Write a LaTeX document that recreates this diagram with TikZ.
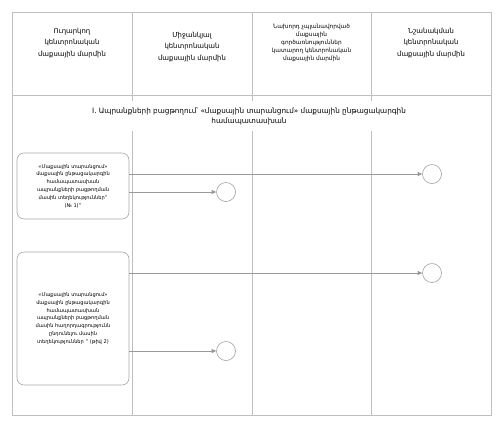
\documentclass[tikz,border=0pt]{standalone}
\usepackage{fontspec}
\setmainfont{DejaVu Sans}
\usetikzlibrary{arrows.meta,positioning}
\tikzset{
	lane/.style={draw=gray!50,line width=.6pt},
	head/.style={align=center,font=\fontsize{6.9}{11.5}\selectfont},
	stage/.style={align=center,fill=white,minimum height=30bp,inner xsep=6bp,font=\fontsize{7.3}{10}\selectfont},
	msg/.style={draw=gray!70,line width=.6pt,rounded corners=7bp,align=center,minimum width=112bp,font=\fontsize{5.1}{7.8}\selectfont},
	event/.style={draw=gray!75,line width=.6pt,circle,minimum size=19bp,inner sep=0pt},
	flow/.style={draw=gray!80,line width=.6pt,-{Triangle[length=4.5bp,width=4bp]}}
}
\begin{document}
\begin{tikzpicture}[x=1bp,y=-1bp]
	\useasboundingbox (0,0) rectangle (500,424);
	\draw[lane] (12,12) rectangle (491,415);
	\draw[lane] (12,95) -- (491,95);
	\foreach \x in {132,252,371}
		\draw[lane] (\x,12) -- (\x,415);

	\node[head] (snd) at (72,43) {Ուղարկող\\կենտրոնական\\մաքսային մարմին};
	\node[head] (mid) at (192,47) {Միջանկյալ\\կենտրոնական\\մաքսային մարմին};
	\node[head,font=\fontsize{5.8}{8}\selectfont] (prv) at (311.5,43) {Նախորդ չպլանավորված\\մաքսային\\գործառնություններ\\կատարող կենտրոնական\\մաքսային մարմին};
	\node[head] (dst) at (431,43) {Նշանակման\\կենտրոնական\\մաքսային մարմին};

	\node[stage] (st1) at (249,116) {I. Ապրանքների բացթողում՝ «մաքսային տարանցում» մաքսային ընթացակարգին\\համապատասխան};

	\node[msg,minimum height=66bp] (msg1) at (73,186) {«Մաքսային տարանցում»\\մաքսային ընթացակարգին\\համապատասխան\\ապրանքների բացթողման\\մասին տեղեկություններ"\\(№ 1)"};
	\node[msg,minimum height=133bp] (msg2) at (73,318.5) {«Մաքսային տարանցում»\\մաքսային ընթացակարգին\\համապատասխան\\ապրանքների բացթողման\\մասին հաղորդագրությունն\\ընդունելու մասին\\տեղեկություններ " (թիվ 2)};

	\node[event] (ev1) at (432,174) {};
	\node[event] (ev2) at (226,192) {};
	\node[event] (ev3) at (432,273) {};
	\node[event] (ev4) at (226,351) {};

	\draw[flow] (msg1.east |- ev1) -- (ev1);
	\draw[flow] (msg1.east |- ev2) -- (ev2);
	\draw[flow] (msg2.east |- ev3) -- (ev3);
	\draw[flow] (msg2.east |- ev4) -- (ev4);
\end{tikzpicture}
\end{document}
